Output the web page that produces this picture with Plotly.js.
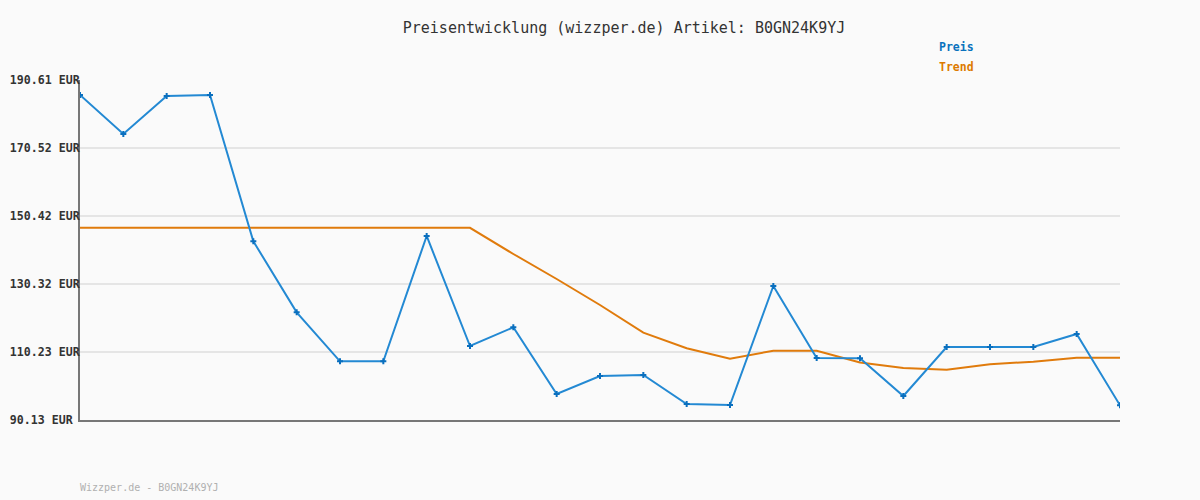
<!DOCTYPE html>
<html>
<head>
<meta charset="utf-8">
<script src="https://cdn.plot.ly/plotly-3.0.1.min.js"></script>
<style>html,body{margin:0;padding:0;background:#fafafa;}#chart{width:1200px;height:500px;}</style>
</head>
<body>
<div id="chart"></div>
<script>
const pointIndex = [0,1,2,3,4,5,6,7,8,9,10,11,12,13,14,15,16,17,18,19,20,21,22,23,24];
const preis = [186.18,174.65,185.88,186.18,142.94,121.96,107.48,107.48,144.51,112.00,117.53,97.81,103.13,103.43,94.86,94.56,129.73,108.45,108.40,97.22,111.70,111.70,111.70,115.55,94.47];
const trend = [146.93,146.93,146.93,146.93,146.93,146.93,146.93,146.93,146.93,146.93,139.19,131.80,124.12,115.93,111.32,108.25,110.61,110.61,107.12,105.49,104.99,106.59,107.36,108.54,108.54];
const tickValues = [90.13,110.23,130.32,150.42,170.52,190.61];
const tickLabels = ["90.13 EUR\u00a0","110.23 EUR","130.32 EUR","150.42 EUR","170.52 EUR","190.61 EUR"];
const titleText = "Preisentwicklung (wizzper.de) Artikel: B0GN24K9YJ";
const footerText = "Wizzper.de - B0GN24K9YJ";

const mono = "DejaVu Sans Mono, monospace";
const data = [
  {x: pointIndex, y: trend, type: 'scatter', mode: 'lines', name: 'Trend',
   line: {color: '#e07b0c', width: 2}, hoverinfo: 'none'},
  {x: pointIndex, y: preis, type: 'scatter', mode: 'lines+markers', name: 'Preis',
   line: {color: '#2389d3', width: 2},
   marker: {symbol: 'cross', size: 5, color: '#0a6fbe'}, hoverinfo: 'none'}
];
const layout = {
  width: 1200, height: 500,
  paper_bgcolor: '#fafafa', plot_bgcolor: '#fafafa',
  margin: {l: 80, r: 80, t: 80, b: 80},
  showlegend: false,
  title: {text: titleText, x: 0.52, xanchor: 'center', y: 0.944, yanchor: 'middle',
          font: {family: mono, size: 15, color: '#333'}},
  xaxis: {range: [0, pointIndex.length - 1], showgrid: false, zeroline: false,
          showticklabels: false, ticks: '', showline: true, linecolor: '#777', linewidth: 2,
          fixedrange: true},
  yaxis: {range: [tickValues[0], tickValues[tickValues.length-1]], tickmode: 'array',
          tickvals: tickValues, ticktext: tickLabels, showgrid: true, gridcolor: '#e5e5e5',
          gridwidth: 2, zeroline: false, showline: true, linecolor: '#777', linewidth: 2,
          ticks: '', ticklabelstandoff: -4,
          tickfont: {family: mono, size: 11.6, color: '#333', weight: 'bold'}, fixedrange: true},
  annotations: [
    {text: '<b>Preis</b>', xref: 'paper', yref: 'paper', x: (937-80)/1040, y: (500-47-80)/340,
     xanchor: 'left', yanchor: 'middle', showarrow: false,
     font: {family: mono, size: 11.5, color: '#0a72bd'}},
    {text: '<b>Trend</b>', xref: 'paper', yref: 'paper', x: (937-80)/1040, y: (500-67-80)/340,
     xanchor: 'left', yanchor: 'middle', showarrow: false,
     font: {family: mono, size: 11.5, color: '#dd7a00'}},
    {text: footerText, xref: 'paper', yref: 'paper', x: -2/1040, y: (500-487-80)/340,
     xanchor: 'left', yanchor: 'middle', showarrow: false,
     font: {family: mono, size: 10, color: '#b0b0b0'}}
  ]
};
Plotly.newPlot('chart', data, layout, {displayModeBar: false, staticPlot: true});
</script>
</body>
</html>
